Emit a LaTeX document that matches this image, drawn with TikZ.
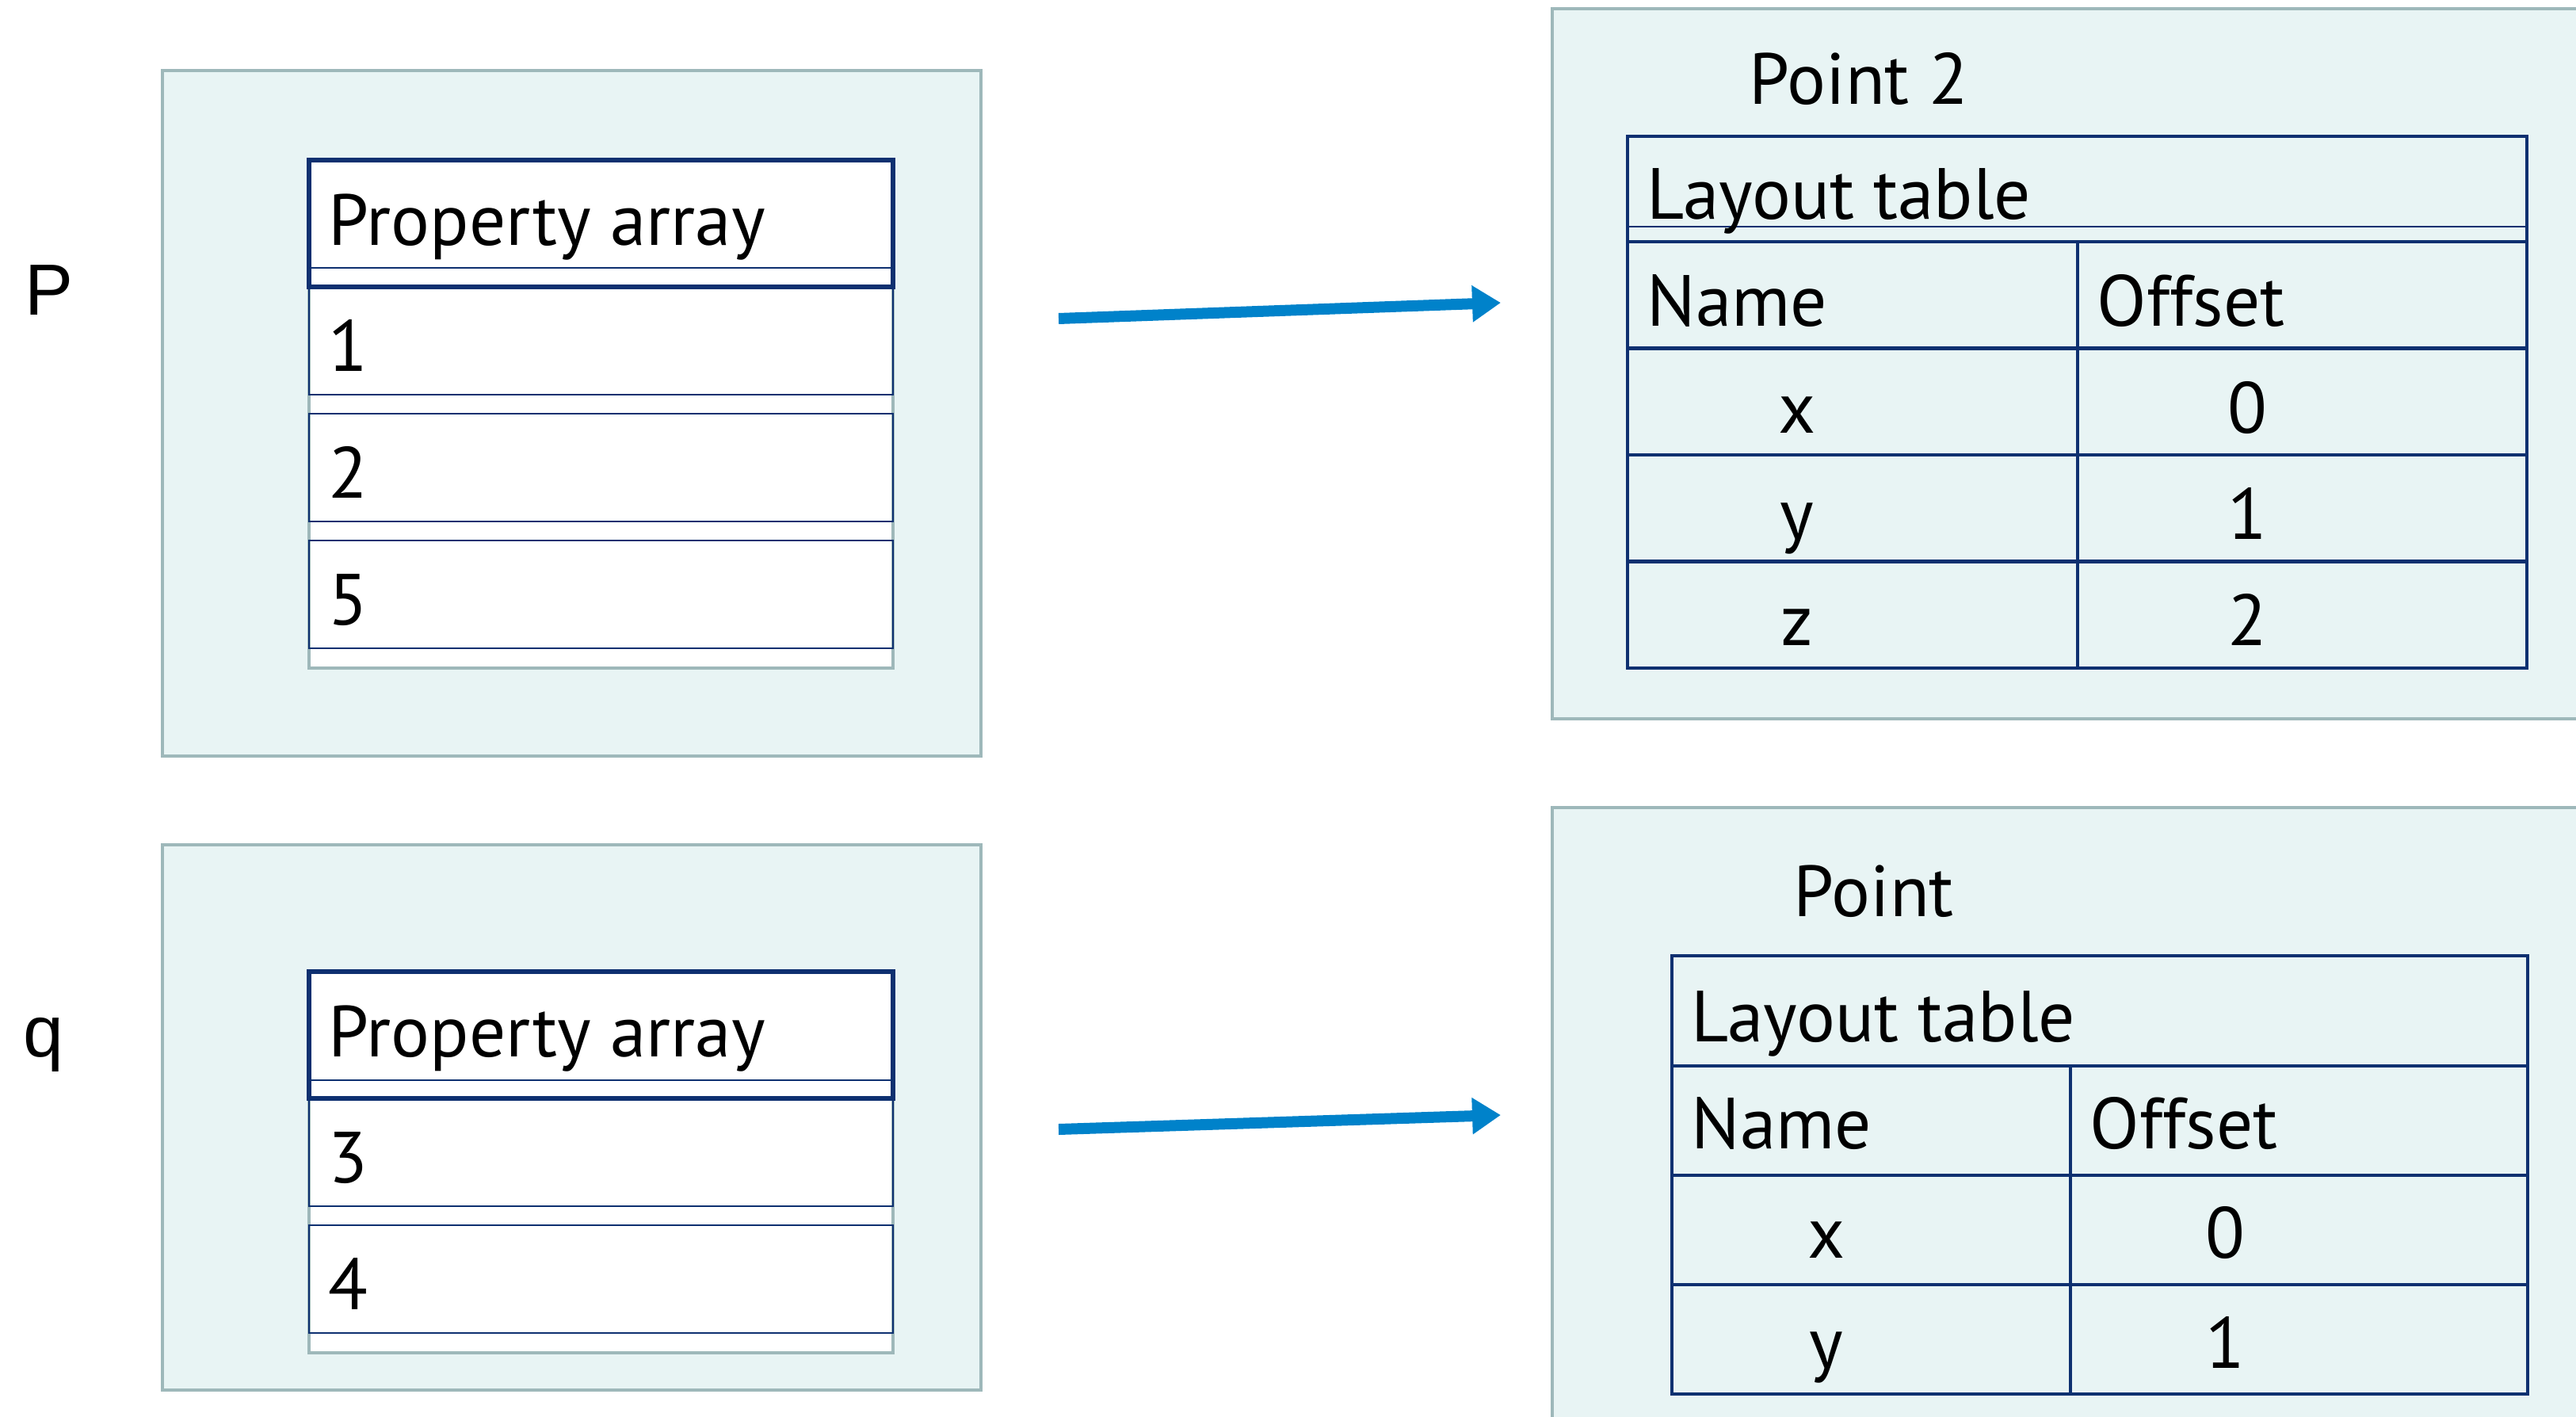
\documentclass[tikz,border=0pt]{standalone}
\usepackage{fontspec}
\setmainfont{PT Sans}
\newfontfamily\labelfont{Liberation Sans}
\usetikzlibrary{arrows.meta,positioning}
\definecolor{boxfill}{RGB}{232,244,244}
\definecolor{boxline}{RGB}{158,184,186}
\definecolor{navy}{RGB}{14,48,112}
\definecolor{arrowblue}{RGB}{0,130,202}
\tikzstyle{objbox}=[draw=boxline,fill=boxfill,line width=0.9pt,anchor=north west,inner sep=0,outer sep=0]
\tikzstyle{arrbox}=[draw=boxline,fill=white,line width=1.2pt,anchor=north west,inner sep=0,outer sep=0,minimum width=7.37cm]
\tikzstyle{hdr}=[draw=navy,line width=1.6pt,anchor=north west,inner sep=0,outer sep=0,minimum width=7.37cm,minimum height=1.60cm]
\tikzstyle{slot}=[draw=navy,line width=0.7pt,inner sep=0,outer sep=0,minimum width=7.37cm,minimum height=1.36cm]
\tikzstyle{cell}=[draw=navy,line width=1.3pt,anchor=north west,inner sep=0,outer sep=0]
\tikzstyle{txt}=[inner sep=0,anchor=base west,font=\fontsize{26}{30}\selectfont]
\tikzstyle{val}=[txt,anchor=base]
\tikzstyle{var}=[inner sep=0,anchor=base west,font=\labelfont\fontsize{26}{30}\selectfont]
\tikzstyle{link}=[draw=arrowblue,line width=0.14cm,-{Triangle[length=0.36cm,width=0.44cm]}]

\begin{document}
\begin{tikzpicture}
      \useasboundingbox (0,0) rectangle (32.51,-17.87);

      % object p
      \node [var] (lp) at (0.31,-3.97) {P};
      \node [objbox,minimum width=10.33cm,minimum height=8.65cm] (objp) at (2.05,-0.89) {};
      \node [arrbox,minimum height=6.41cm] (arrp) at (3.90,-2.02) {};
      \node [hdr] (hp) at (3.90,-2.02) {};
      \draw [navy,line width=0.5pt] (hp.west |- 0,-3.38) -- (hp.east |- 0,-3.38);
      \node [slot] (p1) [below=0cm of hp] {};
      \node [slot] (p2) [below=0.24cm of p1] {};
      \node [slot] (p3) [below=0.24cm of p2] {};
      \node [txt] (thp) at ([xshift=0.24cm,yshift=-1.07cm]hp.north west) {Property array};
      \node [txt] (tp1) at ([xshift=0.24cm,yshift=-1.06cm]p1.north west) {1};
      \node [txt] (tp2) at ([xshift=0.24cm,yshift=-1.06cm]p2.north west) {2};
      \node [txt] (tp3) at ([xshift=0.24cm,yshift=-1.06cm]p3.north west) {5};

      % object q
      \node [var] (lq) at (0.29,-13.33) {q};
      \node [objbox,minimum width=10.33cm,minimum height=6.88cm] (objq) at (2.05,-10.66) {};
      \node [arrbox,minimum height=4.81cm] (arrq) at (3.90,-12.26) {};
      \node [hdr] (hq) at (3.90,-12.26) {};
      \draw [navy,line width=0.5pt] (hq.west |- 0,-13.63) -- (hq.east |- 0,-13.63);
      \node [slot] (q1) [below=0cm of hq] {};
      \node [slot] (q2) [below=0.24cm of q1] {};
      \node [txt] (thq) at ([xshift=0.24cm,yshift=-1.07cm]hq.north west) {Property array};
      \node [txt] (tq1) at ([xshift=0.24cm,yshift=-1.06cm]q1.north west) {3};
      \node [txt] (tq2) at ([xshift=0.24cm,yshift=-1.06cm]q2.north west) {4};

      % hidden class Point 2
      \node [objbox,minimum width=13.5cm,minimum height=8.96cm] (cls2) at (19.59,-0.11) {};
      \node [txt] (tcls2) at (22.07,-1.32) {Point 2};
      \node [cell,minimum width=11.35cm,minimum height=1.33cm] (lt2) at (20.54,-1.72) {};
      \draw [navy,line width=0.5pt] (lt2.west |- 0,-2.86) -- (lt2.east |- 0,-2.86);
      \node [cell,minimum width=5.68cm,minimum height=1.345cm] (n2) at (20.54,-3.05) {};
      \node [cell,minimum width=5.67cm,minimum height=1.345cm] (o2) at (26.22,-3.05) {};
      \node [cell,minimum width=5.68cm,minimum height=1.345cm] (nx2) at (20.54,-4.395) {};
      \node [cell,minimum width=5.67cm,minimum height=1.345cm] (ox2) at (26.22,-4.395) {};
      \node [cell,minimum width=5.68cm,minimum height=1.345cm] (ny2) at (20.54,-5.74) {};
      \node [cell,minimum width=5.67cm,minimum height=1.345cm] (oy2) at (26.22,-5.74) {};
      \node [cell,minimum width=5.68cm,minimum height=1.345cm] (nz2) at (20.54,-7.085) {};
      \node [cell,minimum width=5.67cm,minimum height=1.345cm] (oz2) at (26.22,-7.085) {};
      \node [txt] (tlt2) at ([xshift=0.24cm,yshift=-1.04cm]lt2.north west) {Layout table};
      \node [txt] (tn2) at ([xshift=0.24cm,yshift=-1.06cm]n2.north west) {Name};
      \node [txt] (to2) at ([xshift=0.24cm,yshift=-1.06cm]o2.north west) {Offset};
      \node [val] (tnx2) at ([xshift=2.14cm,yshift=-1.07cm]nx2.north west) {x};
      \node [val] (tox2) at ([xshift=2.14cm,yshift=-1.07cm]ox2.north west) {0};
      \node [val] (tny2) at ([xshift=2.14cm,yshift=-1.06cm]ny2.north west) {y};
      \node [val] (toy2) at ([xshift=2.14cm,yshift=-1.06cm]oy2.north west) {1};
      \node [val] (tnz2) at ([xshift=2.14cm,yshift=-1.06cm]nz2.north west) {z};
      \node [val] (toz2) at ([xshift=2.14cm,yshift=-1.06cm]oz2.north west) {2};

      % hidden class Point
      \node [objbox,minimum width=13.5cm,minimum height=8cm] (cls1) at (19.59,-10.19) {};
      \node [txt] (tcls1) at (22.63,-11.56) {Point};
      \node [cell,minimum width=10.80cm,minimum height=1.39cm] (lt1) at (21.10,-12.06) {};
      \node [cell,minimum width=5.03cm,minimum height=1.38cm] (n1) at (21.10,-13.45) {};
      \node [cell,minimum width=5.77cm,minimum height=1.38cm] (o1) at (26.13,-13.45) {};
      \node [cell,minimum width=5.03cm,minimum height=1.38cm] (nx1) at (21.10,-14.83) {};
      \node [cell,minimum width=5.77cm,minimum height=1.38cm] (ox1) at (26.13,-14.83) {};
      \node [cell,minimum width=5.03cm,minimum height=1.38cm] (ny1) at (21.10,-16.21) {};
      \node [cell,minimum width=5.77cm,minimum height=1.38cm] (oy1) at (26.13,-16.21) {};
      \node [txt] (tlt1) at ([xshift=0.24cm,yshift=-1.08cm]lt1.north west) {Layout table};
      \node [txt] (tn1) at ([xshift=0.24cm,yshift=-1.04cm]n1.north west) {Name};
      \node [txt] (to1) at ([xshift=0.24cm,yshift=-1.04cm]o1.north west) {Offset};
      \node [val] (tnx1) at ([xshift=1.95cm,yshift=-1.04cm]nx1.north west) {x};
      \node [val] (tox1) at ([xshift=1.95cm,yshift=-1.04cm]ox1.north west) {0};
      \node [val] (tny1) at ([xshift=1.95cm,yshift=-1.05cm]ny1.north west) {y};
      \node [val] (toy1) at ([xshift=1.95cm,yshift=-1.05cm]oy1.north west) {1};

      % map pointers
      \coordinate (ps) at (13.36,-4.02);
      \coordinate (pe) at (18.94,-3.82);
      \coordinate (qs) at (13.36,-14.25);
      \coordinate (qe) at (18.94,-14.07);
      \draw [link] (ps) -- (pe);
      \draw [link] (qs) -- (qe);
\end{tikzpicture}
\end{document}
